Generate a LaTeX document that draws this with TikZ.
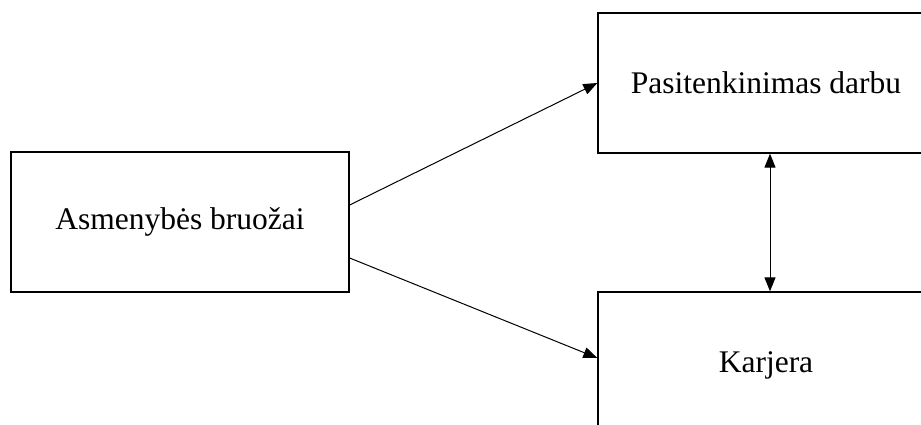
\documentclass[tikz,border=0pt]{standalone}
\usepackage{fontspec}
\setmainfont{Liberation Serif}
\usetikzlibrary{arrows.meta}

\begin{document}
\begin{tikzpicture}[
  x=1pt,y=1pt,
  >={Triangle[length=14pt,width=11pt]},
  box/.style={draw=black, line width=1.3pt, fill=white, inner sep=0pt,
    font=\fontsize{31.5}{36}\selectfont},
  link/.style={->, draw=black, line width=1pt}
]
\useasboundingbox (0,0) rectangle (921,425);
\clip (0,0) rectangle (921,425);

% Boxes
\node[box, minimum width=338pt, minimum height=140pt] (asm) at (180,203) {Asmenybės bruožai};
\node[box, minimum width=336pt, minimum height=140pt] (pas) at (766,342) {Pasitenkinimas darbu};
\node[box, minimum width=336pt, minimum height=146pt] (kar) at (766,60) {Karjera};

% Links
\draw[link] ([yshift=17pt]asm.east) -- (pas.west);
\draw[link] ([yshift=-36pt]asm.east) -- ([yshift=7pt]kar.west);
\draw[link, <->] ([xshift=4pt]pas.south) -- ([xshift=4pt]kar.north);

\end{tikzpicture}
\end{document}
